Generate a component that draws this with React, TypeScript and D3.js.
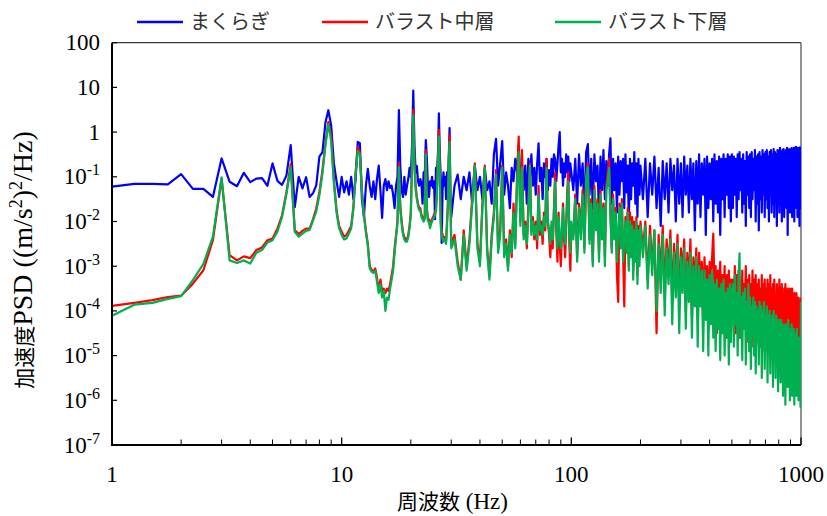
import React from "react";
import * as d3 from "d3";

const WIDTH = 827;
const HEIGHT = 516;
const PLOT = { left: 112, right: 801, top: 42.7, bottom: 445 };

const seriesNames = ["まくらぎ", "バラスト中層", "バラスト下層"];
const seriesColors = ["#0000FF", "#FF0000", "#00B050"];

const yTickExps = [2, 1, 0, -1, -2, -3, -4, -5, -6, -7];
const xMajorTicks = [1, 10, 100, 1000];
const xTickLabels = ["1", "10", "100", "1000"];

// FFT frequency bins of each data block (Hz): start + i * step
const blockBins = [
  { start: 1, step: 0.25 }, // 1–30 Hz
  { start: 31, step: 1 }, // 31–100 Hz
  { start: 102, step: 2 }, // 102–200 Hz
  { start: 205, step: 5 }, // 205–500 Hz
  { start: 505, step: 5 }, // 505–1000 Hz
];

// ---- values: log10 of PSD ((m/s2)2/Hz) ----
// まくらぎ
const makuragiLow = [
  -1.22, -1.16, -1.16, -1.17,
  -0.94, -1.27, -1.27, -1.45,
  -0.59, -1.11, -1.21, -0.91,
  -1.12, -1.04, -1.03, -1.2,
  -0.7, -1.09, -1.18, -0.97,
  -0.29, -1.68, -1.0, -1.26,
  -1.01, -1.45, -1.37, -1.19,
  -0.55, -0.45, 0.22, 0.49,
  0.15, -0.7, -1.1, -1.45,
  -1.0, -1.35, -1.1, -1.4,
  -1.0, -1.5, -1.05, -0.22,
  -0.25, -1.5, -1.9, -1.2,
  -0.82, -1.2, -1.45, -1.1,
  -1.5, -1.05, -0.75, -1.3,
  -1.92, -1.2, -1.05, -1.3,
  -1.1, -1.25, -1.2, -1.4,
  -1.7, -1.2, -1.0, 0.49,
  -0.76, -1.3, -1.45, -1.0,
  -1.4, -1.2, -1.05, -0.8,
  -1.0, -0.3, 0.93, -0.3,
  -0.9, -0.76, -1.1, -1.2,
  -1.05, -1.15, -1.6, -0.9,
  -1.0, -0.18, -0.6, -1.25,
  -1.45, -1.1, -1.2, -1.0,
  -1.25, -1.1, -1.95, -0.8,
  -0.9, -0.6, 0.42, -0.5,
  -1.0, -2.48, -1.3, -0.9,
  -1.2, -1.0, -1.5, -0.9,
  -1.1, -0.7, 0.09, -1.5,
  -1.9,
];
const makuragiMid = [
  -1.2, -0.95, -1.5, -1.0, -1.3, -0.9, -1.6, -0.75, -1.3, -1.0,
  -1.5, -0.8, -1.3, -1.1, -1.6, -0.5, -0.15, -1.2, -0.7, -0.2,
  -1.4, -0.9, -1.2, -1.7, -0.8, -1.1, -0.6, -0.9, -0.3, -1.1,
  -0.7, -1.3, -0.75, -1.6, -0.6, -1.0, -0.5, -1.2, -0.8, -1.4,
  -0.7, -0.25, -1.1, -0.8, -1.5, -0.7, -1.0, -0.6, -1.3, -0.85,
  -1.2, -0.6, -1.0, -0.5, -0.6, -1.1, -0.7, -0.3, 0.0, -0.9,
  -0.6, -1.2, -0.7, -1.0, -0.5, -0.9, -0.55, -1.1, -0.7, -0.9,
];
const makuragiHigh1 = [
  -1.3, -0.6, -1.6, -0.5, -1.2, -0.7, -1.8, -0.45, -0.27, -1.4,
  -0.6, -1.7, -0.5, -1.1, -0.75, -1.9, -0.55, -1.3, -0.4, -1.5,
  -0.65, -1.2, -0.5, -0.14, -1.6, -0.6, -1.3, -0.7, -1.8, -0.55,
  -1.4, -0.65, -1.1, -0.6, -1.7, -0.5, -1.35, -0.75, -2.0, -0.6,
  -1.5, -0.7, -1.2, -0.45, -1.6, -0.7, -1.9, -0.6, -1.4, -0.75,
];
const makuragiHigh2 = [
  -1.5, -0.6, -1.9, -0.7, -1.4, -0.55, -1.7, -0.8, -2.1, -0.65,
  -1.5, -0.7, -1.8, -0.6, -1.3, -0.75, -2.0, -0.6, -1.6, -0.7,
  -1.9, -0.55, -1.4, -0.75, -1.8, -0.6, -1.5, -0.7, -2.2, -0.65,
  -1.6, -0.5, -1.9, -0.7, -1.4, -0.6, -2.3, -0.55, -1.7, -0.7,
  -1.5, -0.6, -2.0, -0.5, -1.6, -0.65, -1.8, -0.55, -2.3, -0.6,
  -1.5, -0.5, -1.9, -0.6, -1.4, -0.5, -1.7, -0.55, -2.0, -0.5,
];
const makuragiHigh3 = [
  -1.7, -0.55, -1.4, -0.6, -1.9, -0.5, -1.5, -0.45, -1.3, -0.6,
  -1.8, -0.5, -1.6, -0.65, -2.1, -0.45, -1.4, -0.55, -1.7, -0.5,
  -1.9, -0.45, -1.5, -0.6, -1.3, -0.4, -2.0, -0.55, -1.6, -0.5,
  -2.2, -0.45, -1.5, -0.55, -1.8, -0.4, -1.4, -0.5, -1.9, -0.45,
  -1.5, -0.4, -1.7, -0.55, -2.0, -0.45, -1.4, -0.4, -1.8, -0.5,
  -1.6, -0.38, -1.9, -0.45, -1.4, -0.5, -2.1, -0.4, -1.6, -0.42,
  -1.8, -0.35, -1.5, -0.45, -2.0, -0.4, -1.6, -0.38, -1.9, -0.45,
  -1.5, -0.4, -1.7, -0.35, -2.3, -0.42, -1.5, -0.38, -1.8, -0.4,
  -1.6, -0.36, -1.9, -0.42, -1.5, -0.35, -2.0, -0.4, -1.7, -0.33,
  -1.5, -0.38, -1.9, -0.35, -1.6, -0.4, -2.1, -0.34, -1.7, -0.35,
];

// バラスト中層
const middleLow = [
  -3.89, -3.82, -3.76, -3.69,
  -3.66, -3.39, -3.09, -2.42,
  -1.04, -2.75, -2.87, -2.78,
  -2.82, -2.64, -2.58, -2.42,
  -2.38, -2.16, -1.86, -1.34,
  -0.72, -2.19, -2.28, -2.21,
  -2.16, -2.16, -1.95, -1.71,
  -1.34, -0.85, -0.25, 0.23,
  -0.1, -1.07, -1.75, -2.1,
  -2.23, -2.34, -2.3, -2.2,
  -2.1, -1.67, -0.9, -0.34,
  -0.45, -1.3, -1.82, -2.2,
  -2.5, -3.0, -3.08, -3.12,
  -3.05, -3.25, -3.55, -3.3,
  -3.55, -3.5, -3.6, -3.5,
  -3.55, -3.4, -3.2, -3.0,
  -2.6, -2.3, -2.0, -0.69,
  -1.65, -2.0, -2.25, -2.35,
  -2.4, -2.4, -2.3, -2.1,
  -1.8, -0.6, 0.5, -0.7,
  -1.2, -1.45, -1.6, -1.7,
  -1.7, -1.85, -1.9, -1.95,
  -1.9, -0.4, -1.7, -1.95,
  -1.95, -2.1, -2.0, -1.95,
  -1.9, -1.85, -1.8, -1.7,
  -1.3, -0.5, 0.05, -0.9,
  -2.0, -2.2, -2.3, -2.35,
  -2.35, -2.4, -2.42, -2.0,
  -1.6, -0.6, -0.07, -1.4,
  -2.5,
];
const middleMid = [
  -2.3, -2.9, -3.3, -2.2, -3.0, -2.4, -1.5, -0.7, -2.5, -2.9,
  -1.6, -0.75, -2.6, -3.2, -2.3, -1.8, -0.85, -2.6, -2.2, -0.75,
  -2.7, -2.4, -3.0, -2.2, -2.8, -1.6, -2.5, -1.0, -0.1, -2.0,
  -0.4, -2.3, -2.0, -2.6, -1.6, -0.7, -2.2, -1.9, -2.4, -2.0,
  -2.6, -1.2, -2.3, -2.0, -2.5, -1.8, -2.2, -0.6, -2.0, -2.3,
  -2.8, -2.1, -2.6, -1.7, -0.9, -2.2, -2.9, -1.8, -2.5, -3.0,
  -2.3, -1.6, -2.4, -2.8, -2.1, -1.3, -0.9, -2.5, -3.1, -2.2,
];
const middleHigh1 = [
  -2.3, -1.4, -2.8, -1.6, -2.2, -1.3, -2.6, -1.1, -0.7, -2.4,
  -1.5, -2.9, -1.2, -2.1, -1.5, -2.7, -1.3, -2.3, -1.6, -2.8,
  -1.2, -0.9, -0.6, -1.8, -2.6, -1.4, -2.2, -1.7, -3.2, -3.8,
  -1.6, -2.4, -1.5, -2.7, -3.9, -1.9, -2.5, -1.7, -3.0, -1.8,
  -2.6, -1.9, -3.1, -2.0, -2.7, -1.9, -3.2, -2.1, -2.8, -2.0,
];
const middleHigh2 = [
  -2.6, -2.0, -3.3, -2.1, -3.0, -2.2, -4.5, -2.3, -3.2, -2.1,
  -3.6, -2.4, -3.1, -2.2, -3.8, -2.5, -3.3, -2.3, -3.9, -2.6,
  -3.2, -2.4, -4.0, -2.7, -3.4, -2.4, -4.1, -2.8, -3.5, -2.6,
  -4.2, -2.7, -3.4, -2.9, -4.3, -2.8, -3.6, -3.0, -4.4, -2.9,
  -3.7, -2.8, -2.27, -3.5, -3.0, -4.5, -3.1, -3.8, -2.9, -4.4,
  -3.2, -3.9, -3.0, -4.6, -3.2, -3.8, -3.1, -4.5, -3.3, -3.9,
];
const middleHigh3 = [
  -3.3, -4.2, -3.0, -4.5, -3.2, -3.8, -3.1, -4.6, -3.3, -4.0,
  -3.1, -4.4, -3.4, -3.9, -3.0, -4.7, -3.3, -4.1, -3.2, -4.5,
  -3.4, -4.0, -3.1, -4.8, -3.3, -4.2, -3.2, -4.6, -3.4, -4.1,
  -3.3, -4.7, -3.5, -4.2, -3.2, -4.9, -3.4, -4.3, -3.3, -4.6,
  -3.5, -4.1, -3.3, -4.8, -3.4, -4.4, -3.2, -4.7, -3.5, -4.3,
  -3.4, -4.9, -3.3, -4.4, -3.6, -4.8, -3.4, -4.2, -3.5, -5.0,
  -3.3, -4.5, -3.5, -4.9, -3.4, -4.3, -3.6, -4.8, -3.5, -4.4,
  -3.4, -5.0, -3.6, -4.5, -3.5, -4.9, -3.7, -4.4, -3.5, -5.1,
  -3.6, -4.6, -3.5, -5.0, -3.7, -4.5, -3.6, -5.1, -3.8, -4.6,
  -3.6, -5.0, -3.8, -4.6, -3.7, -5.2, -3.9, -4.7, -3.8, -3.7,
];

// バラスト下層
const lowerLow = [
  -4.11, -3.86, -3.82, -3.73,
  -3.67, -3.31, -2.95, -2.34,
  -1.01, -2.87, -2.93, -2.87,
  -2.94, -2.7, -2.64, -2.47,
  -2.42, -2.23, -1.9, -1.38,
  -0.78, -2.23, -2.34, -2.27,
  -2.21, -2.19, -1.98, -1.78,
  -1.41, -0.92, -0.29, 0.18,
  -0.2, -1.15, -1.8, -2.15,
  -2.3, -2.4, -2.38, -2.27,
  -2.15, -1.72, -0.95, -0.42,
  -0.5, -1.35, -1.88, -2.25,
  -2.55, -3.05, -3.12, -3.15,
  -3.1, -3.35, -3.6, -3.4,
  -3.7, -3.55, -4.0, -3.7,
  -3.75, -3.5, -3.3, -3.1,
  -2.7, -2.35, -2.05, -0.78,
  -1.75, -2.05, -2.3, -2.4,
  -2.45, -2.45, -2.35, -2.15,
  -1.85, -0.7, 0.38, -0.8,
  -1.3, -1.5, -1.65, -1.75,
  -1.75, -1.9, -1.95, -2.0,
  -1.95, -0.5, -1.75, -2.0,
  -2.0, -2.15, -2.05, -2.0,
  -1.95, -1.9, -1.85, -1.75,
  -1.35, -0.6, -0.1, -1.0,
  -2.1, -2.3, -2.4, -2.45,
  -2.4, -2.45, -2.5, -2.1,
  -1.7, -0.7, -0.22, -1.5,
  -2.6,
];
const lowerMid = [
  -2.4, -3.0, -3.3, -2.3, -3.1, -2.5, -1.6, -0.75, -2.6, -3.0,
  -1.7, -0.8, -2.7, -3.3, -2.4, -1.9, -0.95, -2.7, -2.3, -0.8,
  -2.8, -2.5, -3.1, -2.3, -2.7, -1.8, -2.6, -1.2, -0.45, -2.1,
  -0.8, -2.4, -2.1, -2.5, -1.8, -0.75, -2.3, -2.0, -2.3, -2.1,
  -2.4, -1.4, -2.2, -2.1, -2.3, -1.9, -2.1, -0.8, -2.0, -2.2,
  -2.5, -2.0, -2.4, -1.8, -1.1, -2.1, -2.6, -1.9, -2.3, -2.6,
  -2.2, -1.7, -2.3, -2.5, -2.0, -1.5, -1.1, -2.3, -2.7, -2.0,
];
const lowerHigh1 = [
  -2.4, -1.5, -2.9, -1.7, -2.4, -1.4, -2.7, -1.0, -0.78, -2.5,
  -1.6, -3.0, -1.3, -2.2, -1.6, -2.9, -1.4, -2.4, -1.7, -3.0,
  -1.3, -1.1, -0.8, -1.9, -2.7, -1.5, -2.4, -1.8, -2.9, -2.2,
  -1.7, -2.6, -1.6, -2.9, -2.4, -2.0, -2.7, -1.8, -3.1, -2.0,
  -2.8, -2.1, -3.3, -2.2, -2.9, -2.0, -3.4, -2.2, -3.0, -2.1,
];
const lowerHigh2 = [
  -2.8, -2.1, -3.5, -2.3, -3.2, -2.2, -4.0, -2.5, -3.6, -2.3,
  -4.1, -2.6, -3.4, -2.4, -4.3, -2.7, -3.7, -2.5, -4.5, -2.8,
  -3.6, -2.6, -4.4, -2.9, -3.8, -2.7, -4.6, -3.0, -3.9, -2.8,
  -4.8, -3.0, -3.9, -3.1, -4.9, -3.1, -4.2, -3.3, -5.0, -3.2,
  -4.3, -3.1, -4.6, -3.4, -4.9, -3.3, -4.4, -3.5, -5.1, -3.4,
  -4.5, -3.3, -5.0, -3.6, -4.6, -3.5, -5.2, -3.4, -4.7, -3.6,
];
const lowerHigh3 = [
  -3.4, -4.8, -3.2, -4.3, -3.6, -5.0, -3.3, -2.71, -4.6, -3.7,
  -5.1, -3.6, -4.4, -3.5, -5.2, -3.8, -4.6, -3.4, -4.9, -3.7,
  -5.3, -3.9, -4.5, -3.7, -5.0, -3.8, -5.4, -3.9, -4.7, -4.0,
  -5.2, -3.8, -4.8, -3.9, -5.5, -4.0, -4.7, -3.8, -5.3, -4.1,
  -4.9, -3.9, -5.6, -4.1, -4.8, -4.0, -5.4, -4.2, -5.0, -4.1,
  -5.7, -4.0, -5.1, -4.2, -5.5, -4.1, -4.9, -4.3, -5.8, -4.2,
  -5.2, -4.3, -5.6, -4.2, -5.0, -4.4, -5.9, -4.3, -5.3, -4.4,
  -6.1, -4.3, -5.4, -4.5, -5.7, -4.2, -5.2, -4.4, -6.0, -4.5,
  -5.5, -4.3, -5.9, -4.6, -5.3, -4.4, -6.1, -4.5, -5.6, -4.6,
  -5.9, -4.4, -5.5, -4.7, -6.0, -4.6, -5.4, -4.7, -6.15, -3.8,
];

const seriesBlocks = [
  [makuragiLow, makuragiMid, makuragiHigh1, makuragiHigh2, makuragiHigh3],
  [middleLow, middleMid, middleHigh1, middleHigh2, middleHigh3],
  [lowerLow, lowerMid, lowerHigh1, lowerHigh2, lowerHigh3],
];

type Pt = { f: number; p: number };

function buildSeries(blocks: number[][]): Pt[] {
  const out: Pt[] = [];
  blocks.forEach((vals, b) => {
    const { start, step } = blockBins[b];
    vals.forEach((v, i) => out.push({ f: start + i * step, p: Math.pow(10, v) }));
  });
  return out;
}

const SERIF = "'Liberation Serif', 'Times New Roman', serif";
const CJK = "'Noto Sans CJK JP', 'Noto Sans', sans-serif";

export default function App() {
  const x = d3.scaleLog().domain([1, 1000]).range([PLOT.left, PLOT.right]);
  const y = d3.scaleLog().domain([1e-7, 100]).range([PLOT.bottom, PLOT.top]);
  const line = d3
    .line<Pt>()
    .x((d) => x(d.f))
    .y((d) => y(d.p));

  const data = seriesBlocks.map(buildSeries);
  const minorTicks = x.ticks().filter((t) => !xMajorTicks.includes(t));

  const legendX = [137, 322, 555];

  return (
    <div style={{ position: "absolute", left: 0, top: 0 }}>
      <svg width={WIDTH} height={HEIGHT} style={{ display: "block", background: "#fff" }}>
        <defs>
          <clipPath id="plotClip">
            <rect x={PLOT.left} y={PLOT.top} width={PLOT.right - PLOT.left} height={PLOT.bottom - PLOT.top} />
          </clipPath>
        </defs>

        {/* frame (top / right) */}
        <line x1={PLOT.left} x2={PLOT.right} y1={PLOT.top} y2={PLOT.top} stroke="#3a3a3a" strokeWidth={1.2} />
        <line x1={PLOT.right} x2={PLOT.right} y1={PLOT.top} y2={PLOT.bottom} stroke="#555" strokeWidth={1.3} />

        {/* series */}
        <g clipPath="url(#plotClip)">
          {data.map((s, i) => (
            <path key={i} d={line(s) || ""} fill="none" stroke={seriesColors[i]} strokeWidth={2.2} strokeLinejoin="round" />
          ))}
        </g>

        {/* axes */}
        <line x1={PLOT.left} x2={PLOT.left} y1={PLOT.top} y2={PLOT.bottom + 1} stroke="#000" strokeWidth={2} />
        <line x1={PLOT.left - 1} x2={PLOT.right} y1={PLOT.bottom} y2={PLOT.bottom} stroke="#000" strokeWidth={2} />

        {/* x ticks */}
        {xMajorTicks.map((t) => (
          <line key={"M" + t} x1={x(t)} x2={x(t)} y1={PLOT.bottom} y2={PLOT.bottom - 7.5} stroke="#000" strokeWidth={1.3} />
        ))}
        {minorTicks.map((t) => (
          <line key={"m" + t} x1={x(t)} x2={x(t)} y1={PLOT.bottom} y2={PLOT.bottom - 5.5} stroke="#000" strokeWidth={1} />
        ))}
        {xMajorTicks.map((t, i) => (
          <text key={"xl" + t} x={x(t)} y={482} textAnchor="middle" fontFamily={SERIF} fontSize={23} fill="#000">
            {xTickLabels[i]}
          </text>
        ))}

        {/* y ticks */}
        {yTickExps.map((e) => (
          <line key={"yt" + e} x1={PLOT.left} x2={PLOT.left + 5} y1={y(Math.pow(10, e))} y2={y(Math.pow(10, e))} stroke="#000" strokeWidth={1.2} />
        ))}
        {yTickExps.map((e) => {
          const yy = y(Math.pow(10, e)) + 7.5;
          return e >= 0 ? (
            <text key={"yl" + e} x={100} y={yy} textAnchor="end" fontFamily={SERIF} fontSize={23} fill="#000">
              {String(Math.pow(10, e))}
            </text>
          ) : (
            <text key={"yl" + e} x={100} y={yy} textAnchor="end" fontFamily={SERIF} fontSize={23} fill="#000">
              <tspan>10</tspan>
              <tspan dy={-9} fontSize={16}>{String(e)}</tspan>
            </text>
          );
        })}

        {/* axis titles */}
        <text x={397} y={509} fontSize={21} fill="#000">
          <tspan fontFamily={CJK}>周波数</tspan>
          <tspan fontFamily={SERIF} fontSize={23}> (Hz)</tspan>
        </text>
        <text transform="translate(32,260) rotate(-90)" textAnchor="middle" fill="#000">
          <tspan fontFamily={CJK} fontSize={21}>加速度</tspan>
          <tspan fontFamily={SERIF} fontSize={28}>PSD ((m/s</tspan>
          <tspan fontFamily={SERIF} fontSize={18} dy={-10}>2</tspan>
          <tspan fontFamily={SERIF} fontSize={28} dy={10}>)</tspan>
          <tspan fontFamily={SERIF} fontSize={18} dy={-10}>2</tspan>
          <tspan fontFamily={SERIF} fontSize={28} dy={10}>/Hz)</tspan>
        </text>

        {/* legend */}
        {seriesNames.map((n, i) => (
          <g key={n}>
            <line x1={legendX[i]} x2={legendX[i] + 46} y1={22} y2={22} stroke={seriesColors[i]} strokeWidth={2.5} />
            <text x={legendX[i] + 53} y={29} fontFamily={CJK} fontSize={20} fill="#333">
              {n}
            </text>
          </g>
        ))}
      </svg>
    </div>
  );
}
